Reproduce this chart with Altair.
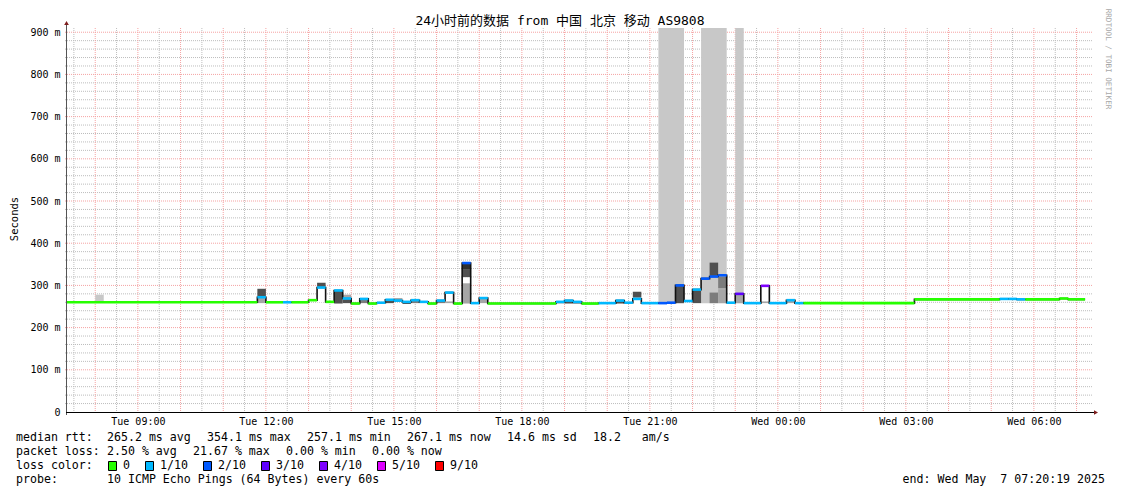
import altair as alt
import pandas as pd

# ---------------- data ----------------
seg_start = ["07:20", "11:48", "12:00", "12:24", "12:36", "13:00", "13:12", "13:24", "13:36", "13:48",
             "14:00", "14:12", "14:24", "14:36", "14:48", "15:00", "15:12", "15:24", "15:36", "15:48",
             "16:00", "16:12", "16:24", "16:36", "16:48", "17:00", "17:12", "18:48", "19:00", "19:12",
             "19:24", "19:48", "20:12", "20:24", "20:36", "20:48", "21:12", "21:24", "21:36", "21:48",
             "22:00", "22:12", "22:24", "22:36", "22:48", "23:00", "23:12", "23:36", "23:48", "00:12",
             "00:24", "00:36", "03:12", "05:12", "05:24", "05:36", "05:48", "06:36", "06:48"]
seg_last_end = "07:12"
seg_median = [260, 272, 260, 260, 260, 265, 295, 261, 288, 269,
              257, 268, 257, 259, 266, 264, 261, 265, 261, 257,
              264, 283, 257, 353, 258, 270, 257, 261, 264, 261,
              257, 258, 264, 259, 268, 258, 258, 259, 300, 263,
              290, 316, 321, 324, 259, 280, 258, 299, 258, 265,
              258, 258, 267, 268, 268, 267, 267, 269, 267]
seg_loss = ["0", "1/10", "0", "1/10", "0", "0", "1/10", "0", "1/10", "1/10",
            "0", "1/10", "0", "1/10", "1/10", "1/10", "1/10", "1/10", "1/10", "0",
            "1/10", "1/10", "0", "2/10", "1/10", "1/10", "0", "1/10", "1/10", "1/10",
            "0", "1/10", "1/10", "1/10", "1/10", "1/10", "2/10", "2/10", "2/10", "1/10",
            "1/10", "2/10", "2/10", "2/10", "1/10", "3/10", "1/10", "4/10", "1/10", "1/10",
            "1/10", "0", "0", "1/10", "1/10", "1/10", "0", "0", "0"]

smoke_start = ["21:12", "22:12", "23:00",
               "08:00", "11:48", "11:48", "13:12", "13:12", "13:36", "13:48", "13:48", "14:12",
               "14:48", "15:00", "15:12", "15:24", "16:00", "16:12", "16:12", "16:36", "16:36",
               "16:36", "16:36", "17:00", "18:48", "19:00", "19:12", "20:12", "20:36", "20:36",
               "21:36", "22:00", "22:24", "22:24", "22:36", "22:36", "23:00", "23:36", "23:36",
               "00:12"]
smoke_end = ["21:48", "22:48", "23:12",
             "08:12", "12:00", "12:00", "13:24", "13:24", "13:48", "14:00", "14:00", "14:24",
             "15:00", "15:12", "15:24", "15:36", "16:12", "16:24", "16:24", "16:48", "16:48",
             "16:48", "16:48", "17:12", "19:00", "19:12", "19:24", "20:24", "20:48", "20:48",
             "21:48", "22:12", "22:36", "22:36", "22:48", "22:48", "23:12", "23:48", "23:48",
             "00:24"]
smoke_lo = [258, 258, 258,
            260, 273, 258, 297, 260, 257, 271, 258, 258,
            258, 266, 256, 258, 258, 262, 258, 337, 319,
            305, 257, 258, 257, 257, 257, 257, 271, 258,
            258, 258, 323, 258, 293, 258, 258, 262, 258,
            258]
smoke_hi = [910, 910, 910,
            278, 292, 271, 306, 294, 287, 278, 267, 266,
            264, 270, 259, 263, 262, 281, 262, 351, 337,
            319, 305, 268, 259, 262, 259, 262, 285, 266,
            298, 289, 354, 283, 321, 291, 278, 298, 262,
            263]
smoke_shade = ["pale", "pale", "pale",
               "pale", "dark", "light", "dark", "white", "dark", "light", "dark", "mid",
               "dark", "light", "dark", "mid", "mid", "white", "light", "black", "dark",
               "white", "light", "light", "light", "dark", "dark", "dark", "dark", "white",
               "dark", "dark", "dark", "mid", "mid", "light", "light", "white", "light",
               "light"]

loss_labels = ["0", "1/10", "2/10", "3/10", "4/10", "5/10", "9/10"]

x_tick_times = ["09:00", "12:00", "15:00", "18:00", "21:00", "00:00", "03:00", "06:00"]
x_tick_labels = ["Tue 09:00", "Tue 12:00", "Tue 15:00", "Tue 18:00", "Tue 21:00",
                 "Wed 00:00", "Wed 03:00", "Wed 06:00"]
y_tick_values = [0, 100, 200, 300, 400, 500, 600, 700, 800, 900]

title_text = "24小时前的数据 from 中国 北京 移动 AS9808"
legend_items = [
    ["median rtt:  ", "265.2 ms avg  ", "354.1 ms max  ", "257.1 ms min  ",
     "267.1 ms now  ", "14.6 ms sd  ", "18.2   am/s"],
    ["packet loss: ", "2.50 % avg  ", "21.67 % max  ", "0.00 % min  ", "0.00 % now"],
    ["loss color:"],
    ["probe:       ", "10 ICMP Echo Pings (64 Bytes) every 60s"],
]
end_text = "end: Wed May  7 07:20:19 2025"
watermark = "RRDTOOL / TOBI OETIKER"
y_title = "Seconds"

# ---------------- styles ----------------
FONT = "DejaVu Sans Mono"
W, H = 1024, 384
CHAR_W = 7.0      # advance of the legend font
ITEM_GAP = 2.0    # extra glue between legend items
LOSS_COLORS = {"0": "#26ff00", "1/10": "#00b8ff", "2/10": "#0059ff", "3/10": "#5e00ff",
               "4/10": "#7e00ff", "5/10": "#dd00ff", "9/10": "#ff0000"}
SHADES = {"black": "#303030", "dark": "#505050", "mid": "#7c7c7c", "light": "#a6a6a6",
          "pale": "#c8c8c8", "white": "#ffffff"}


def tmin(s):
    h, m = map(int, s.split(":"))
    v = h * 60 + m
    return v + 1440 if v < 440 else v


def nb(s):
    return s.replace(" ", "\u00a0")


t0 = 440 + 19 / 60
xscale = alt.Scale(domain=[t0, t0 + 1440], nice=False, zero=False)
yscale = alt.Scale(domain=[0, 910], nice=False, zero=False)

tick_vals = [tmin(t) for t in x_tick_times]
expr = "''"
for v, lab in reversed(list(zip(tick_vals, x_tick_labels))):
    expr = f"datum.value == {v} ? '{lab}' : ({expr})"
xaxis = alt.Axis(values=tick_vals, labelExpr=expr, title=None, grid=False, domain=False,
                 ticks=False, labelFont=FONT, labelFontSize=10, labelColor="#000",
                 labelPadding=4, labelFlush=False)
yaxis = alt.Axis(values=y_tick_values,
                 labelExpr="datum.value == 0 ? '0' : datum.value + ' m'",
                 title=None, grid=False, domain=False, ticks=False, labelFont=FONT,
                 labelFontSize=10, labelColor="#000", labelPadding=7)


def X(f):
    return alt.X(f, type="quantitative", scale=xscale, axis=xaxis)


def Y(f):
    return alt.Y(f, type="quantitative", scale=yscale, axis=yaxis)


# ---------------- tables ----------------
starts = [tmin(s) for s in seg_start]
ends = starts[1:] + [tmin(seg_last_end)]
seg_df = pd.DataFrame({"t0": starts, "t1": ends, "v": seg_median,
                       "color": [LOSS_COLORS[l] for l in seg_loss]})
step_df = pd.DataFrame({"t": starts + [tmin(seg_last_end)],
                        "v": seg_median + [seg_median[-1]]})
smoke_df = pd.DataFrame({"t0": [tmin(s) for s in smoke_start],
                         "t1": [tmin(s) for s in smoke_end],
                         "lo": smoke_lo, "hi": smoke_hi,
                         "color": [SHADES[s] for s in smoke_shade]})

minor_h = pd.DataFrame({"v": [v for v in range(20, 901, 20) if v % 100]})
major_h = pd.DataFrame({"v": list(range(100, 901, 100))})
minor_v = pd.DataFrame({"t": list(range(450, 1881, 60))})
major_v = pd.DataFrame({"t": list(range(480, 1881, 60))})

GRID_GREY = "#bdbdbd"
GRID_RED = "#f5a3a3"

layers = []
layers.append(alt.Chart(minor_h).mark_rule(color=GRID_GREY, strokeDash=[1, 1], strokeWidth=1)
              .encode(y=Y("v"), x=alt.value(-2), x2=alt.value(W + 2)))
layers.append(alt.Chart(minor_v).mark_rule(color=GRID_GREY, strokeDash=[1, 1], strokeWidth=1)
              .encode(x=X("t"), y=alt.value(0), y2=alt.value(H)))
layers.append(alt.Chart(major_h).mark_rule(color=GRID_RED, strokeDash=[1, 1], strokeWidth=1)
              .encode(y=Y("v"), x=alt.value(-2), x2=alt.value(W + 2)))
layers.append(alt.Chart(major_v).mark_rule(color=GRID_RED, strokeDash=[1, 1], strokeWidth=1)
              .encode(x=X("t"), y=alt.value(0), y2=alt.value(H + 2)))

layers.append(alt.Chart(smoke_df).mark_rect(clip=True, strokeWidth=0)
              .encode(x=X("t0"), x2="t1", y=Y("lo"), y2="hi",
                      fill=alt.Fill("color:N", scale=None)))
layers.append(alt.Chart(step_df).mark_line(interpolate="step-after", color="#111",
                                           strokeWidth=1.6, clip=True)
              .encode(x=X("t"), y=Y("v")))
layers.append(alt.Chart(seg_df).mark_rule(strokeWidth=2.6, strokeCap="butt", clip=True)
              .encode(x=X("t0"), x2="t1", y=Y("v"),
                      stroke=alt.Stroke("color:N", scale=None)))

# axes lines and arrows
one = pd.DataFrame({"a": [0]})
layers.append(alt.Chart(one).mark_rule(color="#555555", strokeWidth=1)
              .encode(x=alt.value(-0.5), y=alt.value(-4), y2=alt.value(H + 3)))
layers.append(alt.Chart(one).mark_rule(color="#000000", strokeWidth=1)
              .encode(x=alt.value(-1), x2=alt.value(W + 4), y=alt.value(H + 0.5)))
layers.append(alt.Chart(one).mark_point(shape="triangle-up", filled=True, color="#7f1f1f",
                                        size=22, opacity=1)
              .encode(x=alt.value(-0.5), y=alt.value(-5)))
layers.append(alt.Chart(one).mark_point(shape="triangle-right", filled=True, color="#7f1f1f",
                                        size=22, opacity=1)
              .encode(x=alt.value(W + 5), y=alt.value(H + 0.5)))


def text_layer(s, x, y, size=11.6, align="left", color="#000", angle=0,
               font=FONT):
    return (alt.Chart(pd.DataFrame({"s": [nb(s)]}))
            .mark_text(align=align, baseline="middle", font=font, fontSize=size,
                       color=color, angle=angle)
            .encode(x=alt.value(x), y=alt.value(y), text="s:N"))


layers.append(text_layer(title_text, 493, -7, size=13, align="center",
                         font="DejaVu Sans Mono, Noto Sans CJK SC"))
layers.append(text_layer(y_title, -52.5, 191, size=10.5, align="center", angle=270))
layers.append(text_layer(watermark, 1040.5, 31, size=7.6, align="center", color="#a8a8a8",
                         angle=90))

for i, items in enumerate(legend_items):
    px = -51
    for j, it in enumerate(items):
        layers.append(text_layer(it.rstrip(), px, 410 + 14 * i))
        px += len(it) * CHAR_W + (ITEM_GAP if j > 0 else 0)
layers.append(text_layer(end_text, 1038, 452, align="right"))

sq_x = [41, 78, 136, 194, 252, 310, 368]
for px, lab in zip(sq_x, loss_labels):
    layers.append(alt.Chart(one).mark_rect(fill=LOSS_COLORS[lab], stroke="#000", strokeWidth=1)
                  .encode(x=alt.value(px + 0.5), x2=alt.value(px + 8.5),
                          y=alt.value(433.5), y2=alt.value(442.5)))
    layers.append(text_layer(lab, px + 15, 438))

chart = (alt.layer(*layers)
         .properties(width=W, height=H,
                     padding={"left": 59, "top": 20, "right": 22, "bottom": 74},
                     autosize=alt.AutoSizeParams(type="none"),
                     background="#ffffff")
         .configure_view(stroke=None))

chart.save("out.html", embed_options={"renderer": "svg", "actions": False})
